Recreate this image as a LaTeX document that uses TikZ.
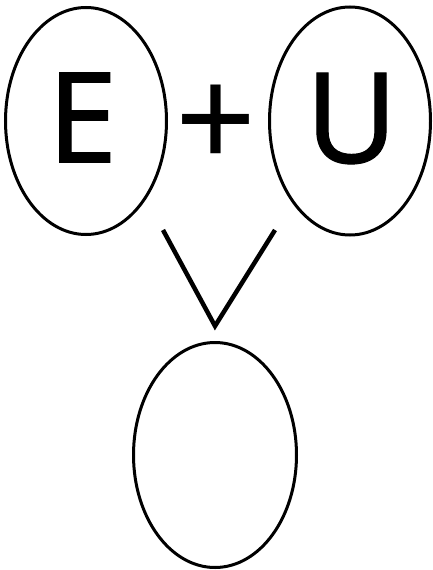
\documentclass[tikz,border=0pt]{standalone}
\usepackage{fontspec}
\setmainfont{Noto Sans}
\newfontfamily\heavyfont[FakeBold=0.8]{Noto Sans}
\usetikzlibrary{shapes.geometric}
\begin{document}
\begin{tikzpicture}[x=1pt,y=-1pt,
  oval/.style={draw,ellipse,line width=3pt,inner sep=0pt,outer sep=0pt},
  letter/.style={inner sep=0pt,font=\heavyfont\fontsize{126}{130}\selectfont},
  plussign/.style={inner sep=0pt,font=\fontsize{142}{142}\selectfont},
  vline/.style={line width=4.5pt}]
\useasboundingbox (0,0) rectangle (433,570);
\node[oval,minimum width=161pt,minimum height=227pt] (eE) at (86,121) {};
\node[oval,minimum width=161pt,minimum height=228pt] (eU) at (350,121) {};
\node[oval,minimum width=163pt,minimum height=225pt] (eR) at (215,455) {};
\node[letter] (E) at (82.5,117.5) {E};
\node[letter] (U) at (351.5,118.5) {U};
\node[plussign] (plus) at (216,127) {+};
\coordinate (vl) at (163,230);
\coordinate (vr) at (275,230);
\coordinate (vb) at (215,326);
\draw[vline,line join=miter] (vl) -- (vb) -- (vr);
\end{tikzpicture}
\end{document}
